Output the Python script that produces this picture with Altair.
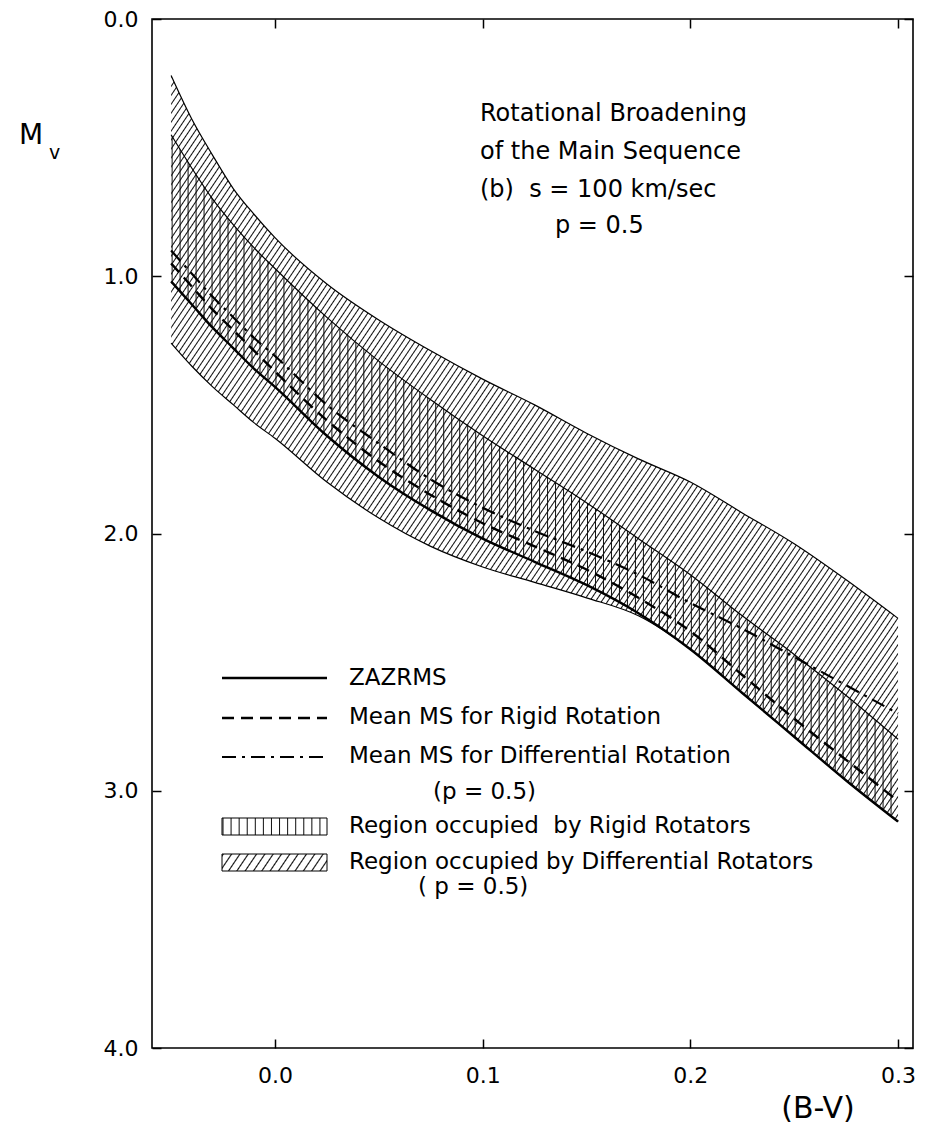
import math
import altair as alt
import pandas as pd

# ---------------- data ----------------
bv = [-0.05, -0.04, -0.03, -0.02, -0.01, 0.0, 0.025, 0.05, 0.075, 0.1,
      0.125, 0.15, 0.175, 0.2, 0.225, 0.25, 0.275, 0.3]
diff_upper = [0.22, 0.39, 0.53, 0.66, 0.76, 0.85, 1.03, 1.17, 1.29, 1.40,
              1.50, 1.61, 1.71, 1.80, 1.92, 2.04, 2.18, 2.33]
diff_lower = [1.26, 1.35, 1.43, 1.50, 1.57, 1.63, 1.80, 1.94, 2.05, 2.13,
              2.19, 2.25, 2.32, 2.45, 2.62, 2.79, 2.96, 3.12]
rigid_upper = [0.45, 0.58, 0.70, 0.80, 0.89, 0.97, 1.16, 1.33, 1.48, 1.62,
               1.75, 1.88, 2.02, 2.16, 2.32, 2.47, 2.63, 2.80]
zazrms = [1.02, 1.11, 1.20, 1.28, 1.36, 1.43, 1.62, 1.78, 1.91, 2.02,
          2.11, 2.20, 2.31, 2.45, 2.62, 2.79, 2.96, 3.12]
mean_rigid = [0.95, 1.04, 1.13, 1.21, 1.29, 1.37, 1.56, 1.72, 1.85, 1.96,
              2.05, 2.14, 2.25, 2.38, 2.55, 2.72, 2.88, 3.04]
mean_diff = [0.90, 0.99, 1.08, 1.16, 1.24, 1.31, 1.50, 1.65, 1.79, 1.90,
             1.99, 2.07, 2.16, 2.27, 2.37, 2.48, 2.59, 2.70]

x_ticks = [0.0, 0.1, 0.2, 0.3]
y_ticks = [0.0, 1.0, 2.0, 3.0, 4.0]

NB = "\u00a0"
title_lines = ["Rotational Broadening", "of the Main Sequence",
               "(b)" + NB * 2 + "s = 100 km/sec", "p = 0.5"]
legend_lines = ["ZAZRMS", "Mean MS for Rigid Rotation", "Mean MS for Differential Rotation", "(p = 0.5)"]
legend_regions = ["Region occupied" + NB * 2 + "by Rigid Rotators",
                  "Region occupied by Differential Rotators", "( p = 0.5)"]

# ---------------- layout / style ----------------
W, H = 761, 1029
XDOM = [-0.0592, 0.3072]
YDOM = [0.0, 4.0]
PX_X = W / (XDOM[1] - XDOM[0])
PX_Y = H / (YDOM[1] - YDOM[0])
FONT = "DejaVu Sans"
CLEAR = "rgba(0,0,0,0)"

df = pd.DataFrame({"bv": bv, "du": diff_upper, "dl": diff_lower, "ru": rigid_upper,
                   "zz": zazrms, "mr": mean_rigid, "md": mean_diff})
one = pd.DataFrame({"k": [0]})


def stripe_gradient(n, line_frac, x2, y2, color="#111"):
    # triangular line profile -> evenly anti-aliased thin hatch lines
    stops = []
    for i in range(n):
        a = i / n
        m = (i + line_frac / 2) / n
        b = (i + line_frac) / n
        c = (i + 1) / n
        stops += [alt.GradientStop(offset=a, color=CLEAR),
                  alt.GradientStop(offset=m, color=color),
                  alt.GradientStop(offset=b, color=CLEAR),
                  alt.GradientStop(offset=min(c, 1.0), color=CLEAR)]
    return alt.LinearGradient(gradient="linear", stops=stops, x1=0, y1=0, x2=x2, y2=y2)


def vertical_hatch(w, spacing, width_px):
    n = max(1, round(w / spacing))
    return stripe_gradient(n, width_px * n / w, 1, 0)


def diagonal_hatch(w, h, theta_deg, spacing, width_px):
    t = math.radians(theta_deg)
    a, b = math.sin(t) / h, math.cos(t) / w
    s = (a + b) / (a * a + b * b)
    span = w * math.sin(t) + h * math.cos(t)
    n = max(1, round(span / spacing))
    return stripe_gradient(n, width_px * n / span, s * a, s * b)


diff_w = (max(bv) - min(bv)) * PX_X
diff_h = (max(diff_lower) - min(diff_upper)) * PX_Y

diag_fill = diagonal_hatch(diff_w, diff_h, 56, 5.0, 2.0)
vert_fill = vertical_hatch(diff_w, 8.0, 2.0)

xs = alt.Scale(domain=XDOM, nice=False, zero=False)
ys = alt.Scale(domain=YDOM, nice=False, zero=False, reverse=True)

TICK = 9
ax_bottom = alt.Axis(values=x_ticks, format=".1f", orient="bottom", tickSize=TICK, offset=-TICK,
                     domain=False, grid=False, title=None, labelPadding=17, labelFontSize=22,
                     labelFont=FONT, labelColor="black", tickColor="black", tickWidth=1.5)
ax_left = alt.Axis(values=y_ticks, format=".1f", orient="left", tickSize=TICK, offset=-TICK,
                   domain=False, grid=False, title=None, labelPadding=14, labelFontSize=22,
                   labelFont=FONT, labelColor="black", tickColor="black", tickWidth=1.5)
ax_top = alt.Axis(values=x_ticks, orient="top", tickSize=TICK, offset=-TICK, domain=False,
                  grid=False, title=None, labels=False, tickColor="black", tickWidth=1.5)
ax_right = alt.Axis(values=y_ticks, orient="right", tickSize=TICK, offset=-TICK, domain=False,
                    grid=False, title=None, labels=False, tickColor="black", tickWidth=1.5)

base = alt.Chart(df)

diff_area = base.mark_area(fill=diag_fill, interpolate="monotone").encode(
    x=alt.X("bv:Q", scale=xs, axis=ax_bottom),
    y=alt.Y("du:Q", scale=ys, axis=ax_left),
    y2="dl:Q")
rigid_area = base.mark_area(fill=vert_fill, interpolate="monotone").encode(
    x=alt.X("bv:Q", scale=xs, axis=None),
    y=alt.Y("ru:Q", scale=ys, axis=None),
    y2="zz:Q")


def curve(col, width, dash=None, axes=False):
    kw = dict(color="black", strokeWidth=width, interpolate="monotone")
    if dash:
        kw["strokeDash"] = dash
    return base.mark_line(**kw).encode(
        x=alt.X("bv:Q", scale=xs, axis=ax_top if axes else None),
        y=alt.Y(f"{col}:Q", scale=ys, axis=ax_right if axes else None))


lines = [
    curve("du", 1.2, axes=True),
    curve("dl", 1.2),
    curve("ru", 1.2),
    curve("zz", 2.4),
    curve("mr", 2.4, dash=[12, 7]),
    curve("md", 2.2, dash=[14, 6, 3, 6]),
]


def label(txt, x, y, size=23, align="left"):
    return alt.Chart(one).mark_text(text=txt, font=FONT, fontSize=size, align=align,
                                    baseline="middle", color="black").encode(
        x=alt.value(x), y=alt.value(y))


texts = [
    label(title_lines[0], 328, 95, 24),
    label(title_lines[1], 328, 133, 24),
    label(title_lines[2], 328, 171, 24),
    label(title_lines[3], 403, 207, 24),
    label(legend_lines[0], 197, 659),
    label(legend_lines[1], 197, 698),
    label(legend_lines[2], 197, 737),
    label(legend_lines[3], 281, 773),
    label(legend_regions[0], 197, 807),
    label(legend_regions[1], 197, 843),
    label(legend_regions[2], 266, 868),
    label("M", -133, 117, 28),
    label("v", -103, 134, 19),
    label("(B-V)", 666, 1090, 30, align="center"),
]


def sample(y, width, dash=None):
    kw = dict(color="black", strokeWidth=width)
    if dash:
        kw["strokeDash"] = dash
    return alt.Chart(one).mark_rule(**kw).encode(x=alt.value(70), x2=alt.value(175), y=alt.value(y))


sw_vert = alt.Chart(one).mark_rect(fill=vertical_hatch(105, 8.0, 2.0), stroke="black", strokeWidth=1).encode(
    x=alt.value(70), x2=alt.value(175), y=alt.value(799), y2=alt.value(816))
sw_diag = alt.Chart(one).mark_rect(fill=diagonal_hatch(105, 17, 56, 7.0, 2.2), stroke="black", strokeWidth=1).encode(
    x=alt.value(70), x2=alt.value(175), y=alt.value(835), y2=alt.value(852))

legend = [sample(659, 2.4), sample(699, 2.4, [12, 7]), sample(738, 2.2, [14, 6, 3, 6]), sw_vert, sw_diag]

chart = alt.layer(diff_area, rigid_area, *lines, *legend, *texts).resolve_axis(
    x="independent", y="independent"
).properties(
    width=W, height=H,
    padding={"left": 144, "top": 11, "right": 8, "bottom": 80},
    autosize=alt.AutoSizeParams(type="none"),
    background="white",
).configure_view(stroke="black", strokeWidth=1.6)

chart.save("out.html", embed_options={"renderer": "svg", "actions": False})
